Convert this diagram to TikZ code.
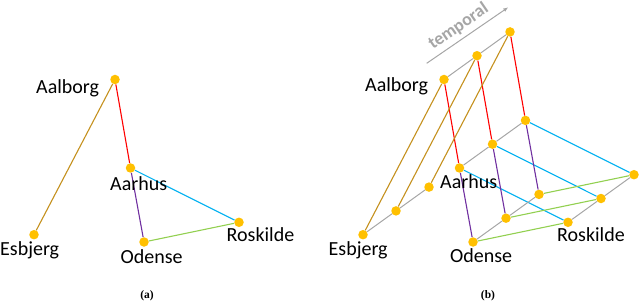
\documentclass[tikz,border=0pt]{standalone}
\usepackage{fontspec}
\newfontfamily\cityfont{Carlito}
\newfontfamily\capfont{Liberation Serif}
\usetikzlibrary{arrows.meta}
\definecolor{dotfill}{RGB}{255,192,0}
\definecolor{edgegold}{RGB}{197,145,30}
\definecolor{edgered}{RGB}{255,0,0}
\definecolor{edgepurple}{RGB}{112,48,160}
\definecolor{edgecyan}{RGB}{0,176,240}
\definecolor{edgegreen}{RGB}{146,208,80}
\definecolor{timegray}{RGB}{166,166,166}

\begin{document}
\begin{tikzpicture}[
  x=1pt, y=-1pt,
  city/.style={circle, fill=dotfill, inner sep=0pt, minimum size=9.5pt},
  citylabel/.style={anchor=base west, inner sep=0pt,
    font=\cityfont\fontsize{20}{24}\selectfont},
  link/.style={line width=1.1pt},
  timeline/.style={draw=timegray, line width=1pt},
  caption/.style={inner sep=0pt, font=\capfont\bfseries\fontsize{11.5}{13}\selectfont}
]
\useasboundingbox (0,0) rectangle (640,302);

% (a) static road network
\node[city] (a-aalborg) at (115,79.5) {};
\node[city] (a-aarhus) at (130.5,168) {};
\node[city] (a-esbjerg) at (34,234.7) {};
\node[city] (a-odense) at (144,242) {};
\node[city] (a-roskilde) at (239,222.3) {};
\draw[link, draw=edgegold] (a-aalborg) -- (a-esbjerg);
\draw[link, draw=edgered] (a-aalborg) -- (a-aarhus);
\draw[link, draw=edgepurple] (a-aarhus) -- (a-odense);
\draw[link, draw=edgecyan] (a-aarhus) -- (a-roskilde);
\draw[link, draw=edgegreen] (a-odense) -- (a-roskilde);
\node[citylabel] (a-aalborg-txt) at (36,94) {Aalborg};
\node[citylabel] (a-aarhus-txt) at (110,190) {Aarhus};
\node[citylabel] (a-esbjerg-txt) at (0,255) {Esbjerg};
\node[citylabel] (a-odense-txt) at (120.5,263) {Odense};
\node[citylabel] (a-roskilde-txt) at (226.5,241.5) {Roskilde};
\node[caption] (cap-a) at (147,296) {(a)};

% (b) one copy of the network per time step
\foreach \k in {0,1,2} {
  \begin{scope}[shift={(329+33*\k,-23.8*\k)}]
    \node[city] (b\k-aalborg) at (115,79.5) {};
    \node[city] (b\k-aarhus) at (130.5,168) {};
    \node[city] (b\k-esbjerg) at (34,234.7) {};
    \node[city] (b\k-odense) at (144,242) {};
    \node[city] (b\k-roskilde) at (239,222.3) {};
    \draw[link, draw=edgegold] (b\k-aalborg) -- (b\k-esbjerg);
    \draw[link, draw=edgered] (b\k-aalborg) -- (b\k-aarhus);
    \draw[link, draw=edgepurple] (b\k-aarhus) -- (b\k-odense);
    \draw[link, draw=edgecyan] (b\k-aarhus) -- (b\k-roskilde);
    \draw[link, draw=edgegreen] (b\k-odense) -- (b\k-roskilde);
  \end{scope}
}
\foreach \c in {aalborg,aarhus,esbjerg,odense,roskilde}
  \draw[timeline] (b0-\c) -- (b1-\c) -- (b2-\c);
\node[citylabel] (b-aalborg-txt) at (365,92) {Aalborg};
\node[citylabel] (b-aarhus-txt) at (440,188.5) {Aarhus};
\node[citylabel] (b-esbjerg-txt) at (328.5,255) {Esbjerg};
\node[citylabel] (b-odense-txt) at (450,262) {Odense};
\node[citylabel] (b-roskilde-txt) at (557,241) {Roskilde};

% time axis
\coordinate (t-start) at (426.7,63.3);
\coordinate (t-end) at (508.3,7.3);
\draw[timeline, -{Latex[length=5pt,width=4pt]}] (t-start) -- (t-end);
\node[rotate=34.5, inner sep=0pt, text=timegray,
  font=\cityfont\bfseries\fontsize{18}{20}\selectfont] (temporal) at (458.5,26.5) {temporal};
\node[caption] (cap-b) at (488,296) {(b)};
\end{tikzpicture}
\end{document}
